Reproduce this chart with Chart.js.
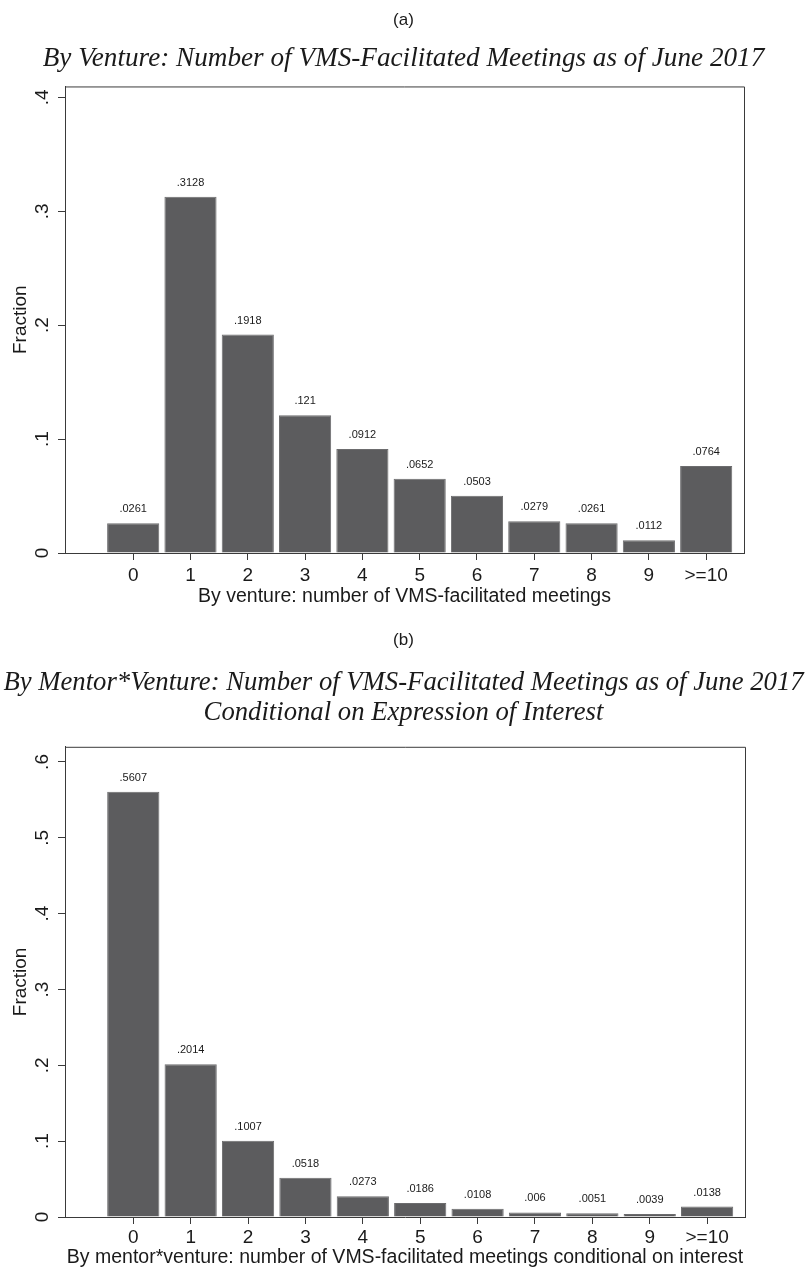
<!DOCTYPE html>
<html>
<head>
<meta charset="utf-8">
<script src="https://cdn.jsdelivr.net/npm/chart.js@4/dist/chart.umd.min.js"></script>
<style>
  html, body { margin: 0; padding: 0; background: #ffffff; }
  #wrap { position: relative; width: 807px; height: 1271px; }
  .panel { position: absolute; left: 0; }
</style>
</head>
<body>
<div id="wrap">
  <div class="panel" style="top:0px"><canvas id="chartA" width="807" height="620"></canvas></div>
  <div class="panel" style="top:620px"><canvas id="chartB" width="807" height="651"></canvas></div>
</div>
<script>
// Meeting-count categories shared by both histograms
const categories = [0, 1, 2, 3, 4, 5, 6, 7, 8, 9, 10];
const categoryLabels = ['0', '1', '2', '3', '4', '5', '6', '7', '8', '9', '>=10'];

// (a) fraction of ventures by number of facilitated meetings
const ventureFractions = [0.0261, 0.3128, 0.1918, 0.121, 0.0912, 0.0652, 0.0503, 0.0279, 0.0261, 0.0112, 0.0764];
const ventureYTicks = [0, 0.1, 0.2, 0.3, 0.4];

// (b) fraction of mentor*venture pairs, conditional on interest
const pairFractions = [0.5607, 0.2014, 0.1007, 0.0518, 0.0273, 0.0186, 0.0108, 0.006, 0.0051, 0.0039, 0.0138];
const pairYTicks = [0, 0.1, 0.2, 0.3, 0.4, 0.5, 0.6];

const SANS = '"Liberation Sans", Arial, Helvetica, sans-serif';
const SERIF = '"Liberation Serif", "Times New Roman", serif';
const INK = '#1a1a1a';
const AXIS = '#3a3a3a';
const BAR = '#5c5c5e';

// Stata-style number text: drop the leading zero
function fmt(v) {
  const s = String(+v.toFixed(4));
  return s.replace(/^0\./, '.');
}

// Frame around the plot region plus rotated y labels and bar value labels
const decorations = {
  id: 'decorations',
  afterDraw(chart, args, opts) {
    const ctx = chart.ctx;
    const a = chart.chartArea;
    ctx.save();
    ctx.strokeStyle = AXIS;
    ctx.lineWidth = 1;
    ctx.beginPath();
    ctx.moveTo(a.left, a.top + 0.5);
    ctx.lineTo(a.right + 0.5, a.top + 0.5);
    ctx.lineTo(a.right + 0.5, a.bottom);
    ctx.stroke();

    // y tick labels, rotated to read bottom-up
    const ys = chart.scales.y;
    ctx.fillStyle = INK;
    ctx.font = '19px ' + SANS;
    ctx.textAlign = 'center';
    ctx.textBaseline = 'middle';
    ys.ticks.forEach(t => {
      const py = ys.getPixelForValue(t.value);
      ctx.save();
      ctx.translate(opts.yLabelX, py);
      ctx.rotate(-Math.PI / 2);
      ctx.fillText(fmt(t.value), 0, 0);
      ctx.restore();
    });

    // value labels above bars
    ctx.font = '11px ' + SANS;
    const meta = chart.getDatasetMeta(0);
    const data = chart.data.datasets[0].data;
    meta.data.forEach((bar, i) => {
      ctx.fillText(fmt(data[i].y), bar.x, bar.y - 14);
    });
    ctx.restore();
  }
};

function makeChart(id, values, yTicks, yMax, cfg) {
  return new Chart(document.getElementById(id), {
    type: 'bar',
    data: {
      datasets: [{
        data: categories.map((c, i) => ({ x: c, y: values[i] })),
        backgroundColor: BAR,
        borderColor: '#6c6c6e',
        borderWidth: 1,
        borderSkipped: 'bottom',
        barPercentage: 0.91,
        categoryPercentage: 1.0
      }]
    },
    plugins: [decorations],
    options: {
      responsive: false,
      animation: false,
      events: [],
      layout: { padding: 0 },
      plugins: {
        legend: { display: false },
        tooltip: { enabled: false },
        decorations: { yLabelX: 43 },
        title: {
          display: true,
          text: cfg.panel,
          color: INK,
          font: { family: SANS, size: 17, weight: 'normal', lineHeight: 1.2 },
          padding: cfg.panelPad
        },
        subtitle: {
          display: true,
          text: cfg.title,
          color: INK,
          font: { family: SERIF, size: cfg.titleSize, style: 'italic', weight: 'normal', lineHeight: 1.12 },
          padding: cfg.titlePad
        }
      },
      scales: {
        x: {
          type: 'linear',
          min: -1.19,
          max: 10.66,
          offset: false,
          afterBuildTicks: s => { s.ticks = categories.map(v => ({ value: v })); },
          afterFit: s => { s.height = cfg.xHeight; },
          ticks: {
            color: INK,
            font: { family: SANS, size: 19 },
            padding: cfg.xTickPad,
            maxRotation: 0,
            autoSkip: false,
            callback: (v, i) => categoryLabels[i]
          },
          grid: { offset: false, drawOnChartArea: false, drawTicks: true, tickLength: 7, color: AXIS, lineWidth: 1 },
          border: { display: true, color: AXIS, width: 1 },
          title: {
            display: true,
            text: cfg.xTitle,
            color: INK,
            font: { family: SANS, size: 19.5, lineHeight: 1.2 },
            padding: { top: 0, bottom: cfg.xTitlePad }
          }
        },
        y: {
          type: 'linear',
          min: 0,
          max: yMax,
          afterBuildTicks: s => { s.ticks = yTicks.map(v => ({ value: v })); },
          afterFit: s => { s.width = 65; },
          ticks: { display: false },
          grid: { drawOnChartArea: false, drawTicks: true, tickLength: 7, color: AXIS, lineWidth: 1 },
          border: { display: true, color: AXIS, width: 1 },
          title: {
            display: true,
            text: 'Fraction',
            color: INK,
            font: { family: SANS, size: 19, lineHeight: 1.2 },
            padding: { top: 9, bottom: 0 }
          }
        },
        // empty right-hand margin so titles centre on the full figure width
        margin: {
          type: 'linear',
          position: 'right',
          afterFit: s => { s.width = cfg.padRight; },
          ticks: { display: false },
          grid: { display: false },
          border: { display: false }
        }
      }
    }
  });
}

makeChart('chartA', ventureFractions, ventureYTicks, 0.4096, {
  panel: '(a)',
  panelPad: { top: 10, bottom: 0 },
  title: 'By Venture: Number of VMS-Facilitated Meetings as of June 2017',
  titleSize: 27.2,
  titlePad: { top: 13, bottom: 12.6 },
  padRight: 63,
  xHeight: 67,
  xTickPad: 4,
  xTitle: 'By venture: number of VMS-facilitated meetings',
  xTitlePad: 12
});

makeChart('chartB', pairFractions, pairYTicks, 0.62, {
  panel: '(b)',
  panelPad: { top: 10, bottom: 0 },
  title: ['By Mentor*Venture: Number of VMS-Facilitated Meetings as of June 2017',
          'Conditional on Expression of Interest'],
  titleSize: 26.7,
  titlePad: { top: 18, bottom: 18.6 },
  padRight: 62,
  xHeight: 54,
  xTickPad: 2,
  xTitle: 'By mentor*venture: number of VMS-facilitated meetings conditional on interest',
  xTitlePad: 2
});
</script>
</body>
</html>
